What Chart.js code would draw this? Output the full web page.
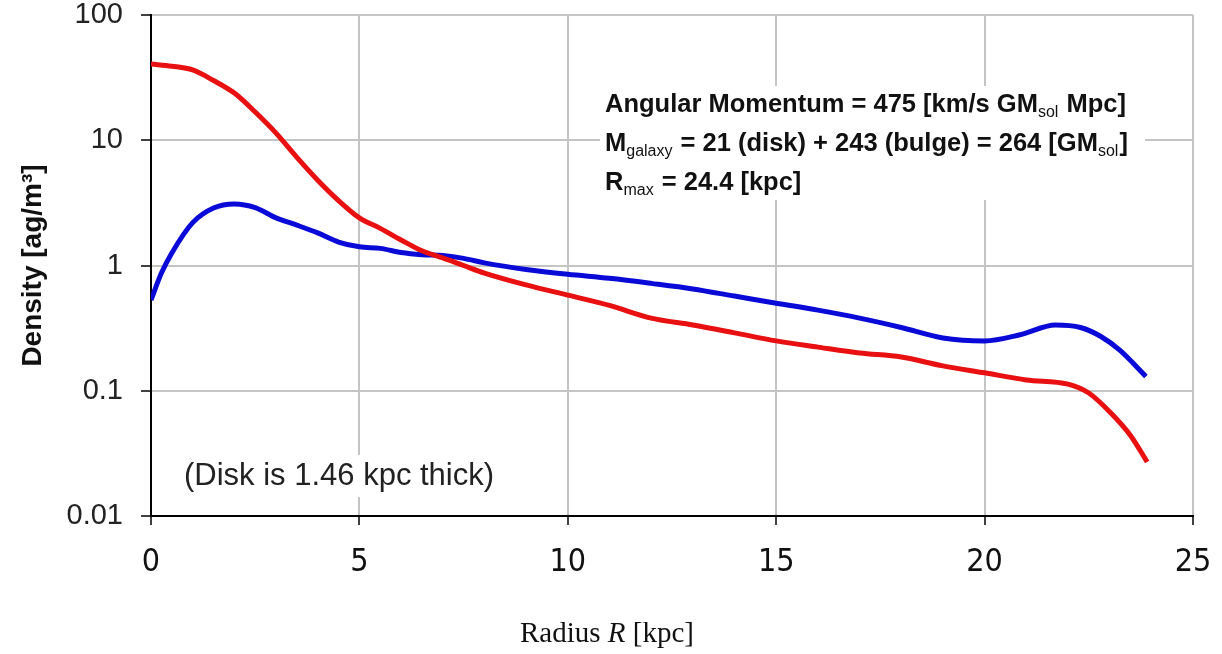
<!DOCTYPE html>
<html>
<head>
<meta charset="utf-8">
<script src="https://cdn.jsdelivr.net/npm/chart.js@4/dist/chart.umd.min.js"></script>
<style>
  html, body { margin: 0; padding: 0; background: #fff; }
  #wrap { width: 1222px; height: 654px; position: relative; }
</style>
</head>
<body>
<div id="wrap"><canvas id="c" width="1222" height="654"></canvas></div>
<script>
// ---- data ----
const radiusRed = [0,0.5,1,1.5,2,2.5,3,3.5,4,4.5,5,5.5,6,6.5,7,7.5,8,9,10,11,12,13,14,15,16,17,18,19,20,21,22,22.5,23,23.5,23.9];
const densityRed = [40.6,39,36.4,30,23.8,16.8,11.4,7.3,4.8,3.3,2.4,1.98,1.6,1.31,1.15,1.0,0.87,0.70,0.58,0.48,0.38,0.335,0.29,0.25,0.223,0.20,0.186,0.158,0.139,0.122,0.113,0.096,0.068,0.044,0.027];

const radiusBlue = [0,0.25,0.5,1,1.5,2,2.5,3,3.5,4,4.5,5,5.5,6,6.5,7,7.5,8,9,10,11,12,13,14,15,16,17,18,19,20,20.85,21.7,22.3,22.8,23.25,23.87];
const densityBlue = [0.53,0.87,1.26,2.2,2.88,3.1,2.9,2.4,2.1,1.82,1.54,1.41,1.37,1.27,1.22,1.2,1.14,1.05,0.93,0.85,0.79,0.72,0.65,0.57,0.5,0.44,0.38,0.32,0.264,0.25,0.28,0.335,0.32,0.27,0.21,0.13];

const yTicks = [0.01, 0.1, 1, 10, 100];
const yTickLabels = ['0.01', '0.1', '1', '10', '100'];
const xTicks = [0, 5, 10, 15, 20, 25];

const yTitle = 'Density [ag/m³]';
const xTitleParts = [{t:'Radius ', s:'normal'}, {t:'R', s:'italic'}, {t:' [kpc]', s:'normal'}];
const infoLines = [
  [{t:'Angular Momentum = 475 [km/s GM'}, {t:'sol', sub:true}, {t:' Mpc]'}],
  [{t:'M'}, {t:'galaxy', sub:true}, {t:' = 21 (disk) + 243 (bulge) = 264 [GM'}, {t:'sol', sub:true}, {t:']'}],
  [{t:'R'}, {t:'max', sub:true}, {t:' = 24.4 [kpc]'}]
];
const diskNote = '(Disk is 1.46 kpc thick)';

const toPts = (xs, ys) => xs.map((x, i) => ({x: x, y: ys[i]}));

const textPlugin = {
  id: 'texts',
  beforeDatasetsDraw(chart) {
    const ctx = chart.ctx;
    ctx.save();
    ctx.fillStyle = '#fff';
    ctx.fillRect(600, 86, 545, 114);
    ctx.fillRect(178, 455, 326, 42);
    ctx.restore();
  },
  afterDraw(chart) {
    const ctx = chart.ctx;
    ctx.save();
    // info block
    const mainFont = 'bold 25.5px "Liberation Sans", Arial, sans-serif';
    const subFont = '16px "Liberation Sans", Arial, sans-serif';
    const baselines = [112, 151, 190];
    ctx.fillStyle = '#111';
    ctx.textBaseline = 'alphabetic';
    ctx.textAlign = 'left';
    infoLines.forEach((line, li) => {
      let x = 605;
      line.forEach(p => {
        ctx.font = p.sub ? subFont : mainFont;
        ctx.fillText(p.t, x, baselines[li] + (p.sub ? 5 : 0));
        x += ctx.measureText(p.t).width + (p.sub ? 1 : 0);
      });
    });
    // disk note
    ctx.font = '31px "Liberation Sans", Arial, sans-serif';
    ctx.fillStyle = '#222';
    ctx.textBaseline = 'middle';
    ctx.fillText(diskNote, 184, 476);
    // x title
    ctx.textBaseline = 'alphabetic';
    ctx.fillStyle = '#111';
    const fontFor = s => (s === 'italic' ? 'italic ' : '') + '29px "Liberation Serif", "Times New Roman", serif';
    let total = 0;
    xTitleParts.forEach(p => { ctx.font = fontFor(p.s); total += ctx.measureText(p.t).width; });
    let x = 607 - total / 2;
    xTitleParts.forEach(p => { ctx.font = fontFor(p.s); ctx.fillText(p.t, x, 642); x += ctx.measureText(p.t).width; });
    ctx.restore();
  }
};

new Chart(document.getElementById('c'), {
  type: 'line',
  data: {
    datasets: [
      {
        label: 'Bulge',
        data: toPts(radiusRed, densityRed),
        borderColor: '#e81010',
        borderWidth: 5,
        pointRadius: 0,
        tension: 0.4,
        cubicInterpolationMode: 'monotone',
        fill: false
      },
      {
        label: 'Disk',
        data: toPts(radiusBlue, densityBlue),
        borderColor: '#0a0ad8',
        borderWidth: 5,
        pointRadius: 0,
        tension: 0.4,
        cubicInterpolationMode: 'monotone',
        fill: false
      }
    ]
  },
  options: {
    responsive: false,
    animation: false,
    devicePixelRatio: 1,
    layout: { padding: { top: 15, right: 29, left: 0, bottom: 0 } },
    plugins: {
      legend: { display: false },
      tooltip: { enabled: false }
    },
    scales: {
      x: {
        type: 'linear',
        min: 0,
        max: 25,
        afterBuildTicks: s => { s.ticks = xTicks.map(v => ({value: v})); },
        afterFit: s => { s.height = 138; s.paddingLeft = 0; s.paddingRight = 0; },
        ticks: {
          color: '#111',
          padding: 18,
          maxRotation: 0,
          font: { family: '"Liberation Sans Narrow", "DejaVu Sans Condensed", sans-serif', size: 32 }
        },
        grid: { color: '#c4c4c4', lineWidth: 2, tickLength: 9, tickColor: '#000', tickWidth: 1.5 },
        border: { color: '#000', width: 2 }
      },
      y: {
        type: 'logarithmic',
        min: 0.01,
        max: 100,
        afterBuildTicks: s => { s.ticks = yTicks.map(v => ({value: v})); },
        afterFit: s => { s.width = 151; s.paddingTop = 0; s.paddingBottom = 0; },
        ticks: {
          color: '#222',
          padding: 18,
          font: { family: '"Liberation Sans", Arial, sans-serif', size: 29 },
          callback: (v, i) => yTickLabels[i]
        },
        grid: { color: '#c4c4c4', lineWidth: 2, tickLength: 10, tickColor: '#000', tickWidth: 1.5 },
        border: { color: '#000', width: 2 },
        title: {
          display: true,
          text: yTitle,
          color: '#111',
          font: { family: '"Liberation Sans", Arial, sans-serif', size: 28, weight: 'bold' },
          padding: { top: 16, bottom: 0 }
        }
      }
    }
  },
  plugins: [textPlugin]
});
</script>
</body>
</html>
